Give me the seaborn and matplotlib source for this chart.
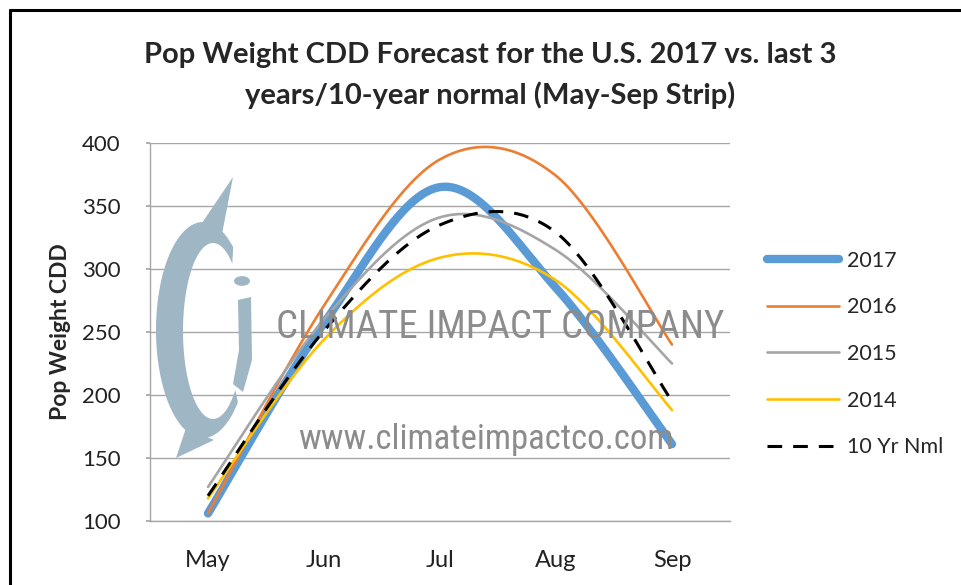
"""
Pop Weight CDD forecast chart: 2017 vs. last 3 years and the 10-year normal.
"""

import matplotlib

matplotlib.use("Agg")

import matplotlib.pyplot as plt
import numpy as np
import pandas as pd
import seaborn as sns
from matplotlib.lines import Line2D
from matplotlib.patches import Circle, Polygon

OUT_PATH = "out.png"

months = ["May", "Jun", "Jul", "Aug", "Sep"]
cdd_2017 = [106, 257, 365, 285, 161]
cdd_2016 = [106, 271, 387, 374, 240]
cdd_2015 = [127, 260, 341, 315, 225]
cdd_2014 = [118, 244, 309, 291, 188]
cdd_10yr = [120, 251, 335, 329, 195]

series_labels = ["2017", "2016", "2015", "2014", "10 Yr Nml"]
y_ticks = [100, 150, 200, 250, 300, 350, 400]

W, H = 961, 585


def fig_xy(x, y):
    """像素坐标（左上为原点）转为 figure 比例坐标。"""
    return x / W, 1 - y / H


def smooth_curve(values, steps=40):
    """Excel 风格的平滑线：Catmull-Rom 控制点的三次贝塞尔，仅用于绘制。"""
    pts = np.column_stack([np.arange(len(values), dtype=float), np.asarray(values, dtype=float)])
    padded = np.vstack([pts[0], pts, pts[-1]])
    out = []
    t = np.linspace(0, 1, steps)[:, None]
    for i in range(len(pts) - 1):
        p0, p1, p2, p3 = padded[i], padded[i + 1], padded[i + 2], padded[i + 3]
        c1 = p1 + (p2 - p0) / 6
        c2 = p2 - (p3 - p1) / 6
        seg = (1 - t) ** 3 * p1 + 3 * (1 - t) ** 2 * t * c1 + 3 * (1 - t) * t ** 2 * c2 + t ** 3 * p2
        out.append(seg if i == 0 else seg[1:])
    curve = np.vstack(out)
    return pd.DataFrame({"x": curve[:, 0], "y": curve[:, 1]})


def draw_watermark(fig):
    """公司水印：Logo 近似图形和文字。"""
    logo = "#9fb6c4"
    tf = fig.transFigure

    # 月牙形的 "C"：外椭圆弧 + 偏右的内椭圆弧
    ang = np.radians(np.linspace(50, 318, 80))
    outer = [(203 + 47 * np.cos(a), 330 - 108 * np.sin(a)) for a in ang]
    inner = [(213 + 30 * np.cos(a), 331 - 88 * np.sin(a)) for a in ang[::-1]]
    fig.add_artist(Polygon([fig_xy(*p) for p in outer + inner], closed=True, transform=tf,
                           facecolor=logo, edgecolor="none", zorder=1))
    for poly in ([(200, 226), (233, 177), (222, 234)], [(186, 428), (176, 458), (214, 440)],
                 [(238, 300), (251, 297), (252, 360), (243, 392), (233, 384), (239, 350)]):
        fig.add_artist(Polygon([fig_xy(*p) for p in poly], closed=True, transform=tf,
                               facecolor=logo, edgecolor="none", zorder=1))
    fig.add_artist(Circle(fig_xy(242, 281), 8 / W, transform=tf, facecolor=logo,
                          edgecolor="none", zorder=1))

    wm_font = ["Liberation Sans Narrow", "Roboto Condensed", "DejaVu Sans"]
    fig.text(*fig_xy(500, 328), "CLIMATE IMPACT COMPANY", ha="center", va="center",
             fontsize=28, color="#8c8c8c", family=wm_font, zorder=1)
    fig.text(*fig_xy(486, 440), "www.climateimpactco.com", ha="center", va="center",
             fontsize=25, color="#8c8c8c", family=wm_font, zorder=1)


def main() -> None:
    sns.set_theme(style="white")
    plt.rcParams["font.family"] = ["Lato", "DejaVu Sans"]

    fig = plt.figure(figsize=(W / 100, H / 100), dpi=100)
    ax = fig.add_axes([150 / W, 1 - 521 / H, 580 / W, 378 / H])
    ax.set_facecolor("none")

    draw_watermark(fig)

    styles = [
        (cdd_2017, "#5b9bd5", 6.0, None),
        (cdd_2016, "#ed7d31", 1.9, None),
        (cdd_2015, "#a5a5a5", 1.9, None),
        (cdd_2014, "#ffc000", 1.9, None),
        (cdd_10yr, "#000000", 2.2, (4.8, 3.6)),
    ]
    handles = []
    for label, (values, color, lw, dash) in zip(series_labels, styles):
        curve = smooth_curve(values)
        sns.lineplot(data=curve, x="x", y="y", ax=ax, color=color, linewidth=lw,
                     sort=False, estimator=None, zorder=3)
        line = ax.lines[-1]
        line.set_solid_capstyle("round")
        if dash is not None:
            line.set_dashes(dash)
        handles.append(Line2D([], [], color=color, linewidth=lw,
                              linestyle=(0, dash) if dash else "-",
                              solid_capstyle="round"))

    ax.set_xlim(-0.5, len(months) - 0.5)
    ax.set_ylim(100, 400)
    ax.set_xticks(range(len(months)))
    ax.set_xticklabels(months)
    ax.set_yticks(y_ticks)
    ax.grid(axis="y", color="#a6a6a6", linewidth=1.0)
    ax.set_axisbelow(True)
    for side in ("top", "right"):
        ax.spines[side].set_visible(False)
    for side in ("left", "bottom"):
        ax.spines[side].set_color("#a6a6a6")
        ax.spines[side].set_linewidth(1.0)
    ax.tick_params(axis="y", which="major", left=True, length=3, color="#a6a6a6",
                   labelsize=16, pad=18, labelcolor="#222222")
    ax.tick_params(axis="x", bottom=False, labelsize=17, pad=15, labelcolor="#222222")
    ax.set_xlabel("")
    ax.set_ylabel("Pop Weight CDD", fontsize=16.5, fontweight="bold", labelpad=8)

    fig.text(*fig_xy(490, 55), "Pop Weight CDD Forecast for the U.S. 2017 vs. last 3",
             ha="center", va="center", fontsize=21, fontweight="bold")
    fig.text(*fig_xy(490, 95), "years/10-year normal (May-Sep Strip)",
             ha="center", va="center", fontsize=21, fontweight="bold")

    fig.legend(handles, series_labels, loc="upper left",
               bbox_to_anchor=fig_xy(758, 242), frameon=False, fontsize=15.5,
               handlelength=3.35, handletextpad=0.4, labelspacing=1.24,
               borderaxespad=0)

    # 外框（原图只露出上边和左边）
    fig.add_artist(Line2D([10 / W, 10 / W], [0, 1 - 10 / H], color="black", lw=2.2,
                          transform=fig.transFigure))
    fig.add_artist(Line2D([10 / W, 1], [1 - 10 / H, 1 - 10 / H], color="black", lw=2.2,
                          transform=fig.transFigure))

    fig.savefig(OUT_PATH, dpi=100)
    plt.close(fig)


if __name__ == "__main__":
    main()
